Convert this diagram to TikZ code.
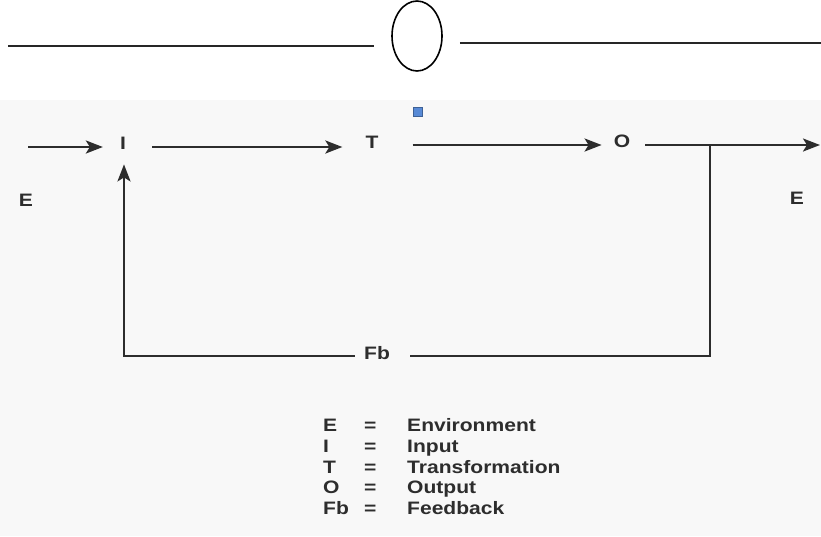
\documentclass[tikz,border=0pt]{standalone}
\usepackage{fontspec}
\setsansfont{Liberation Sans}[FakeStretch=1.17]
\usetikzlibrary{arrows.meta,shapes.geometric}
\definecolor{ink}{RGB}{45,45,45}
\definecolor{paper}{RGB}{248,248,248}
\definecolor{handle}{RGB}{88,138,214}
\begin{document}
\begin{tikzpicture}[x=1pt,y=-1pt,
  lbl/.style={font=\sffamily\bfseries\fontsize{18}{18}\selectfont, inner sep=0pt, text=ink},
  key/.style={lbl, anchor=base west},
  wire/.style={draw=ink, line width=2.5pt},
  flow/.style={wire, -{Stealth[length=17pt,width=13pt,inset=4pt]}},
  rule/.style={draw=black!85, line width=2.6pt}]
\useasboundingbox (0,0) rectangle (821,536);
% scanned page area
\fill[paper] (0,100) rectangle (821,536);

% header rule with the small oval
\node[draw=black, line width=1.6pt, ellipse, minimum width=50pt, minimum height=70pt, inner sep=0pt] (oval) at (417,36) {};
\coordinate (hl) at (8,46);
\coordinate (hr) at (821,43);
\draw[rule] (hl) -- ([xshift=-17pt]oval.west |- hl);
\draw[rule] ([xshift=17pt]oval.east |- hr) -- (hr);

% selection handle
\fill[handle, draw=handle!70!black, line width=0.6pt] (413,107) rectangle (422,116);

% system labels
\node[lbl] (I) at (123,143) {I};
\node[lbl] (T) at (372,142) {T};
\node[lbl] (O) at (622,141) {O};
\node[lbl] (EL) at (26,200) {E};
\node[lbl] (ER) at (797,198) {E};
\node[lbl] (Fb) at (377,353) {Fb};

\coordinate (in) at (28,147);
\coordinate (out) at (820,145);
\coordinate (br) at (710,145);
\coordinate (fbr) at (710,356);
\coordinate (fbl) at (124,356);

% forward chain E -> I -> T -> O -> E
\draw[flow] (in) -- ([xshift=-17pt]I.west |- in);
\draw[flow] ([xshift=26pt]I.east |- in) -- ([xshift=-23pt]T.west |- in);
\draw[flow] ([xshift=34pt]T.east |- out) -- ([xshift=-12pt]O.west |- out);
\draw[flow] ([xshift=15pt]O.east |- out) -- (out);

% feedback loop
\draw[wire] (br) -- (fbr) -- ([xshift=20pt]Fb.east |- fbr);
\draw[flow] ([xshift=-9pt]Fb.west |- fbl) -- (fbl) -- ([yshift=-15pt]fbl |- I.south);

% legend
\foreach \k/\v/\y [count=\n] in {E/Environment/431.5, I/Input/452.5, T/Transformation/473, O/Output/493.5, Fb/Feedback/514.5}{
  \node[key] (k\n) at (323,\y) {\k};
  \node[key] (q\n) at (364,\y) {=};
  \node[key] (v\n) at (407,\y) {\v};
}
\end{tikzpicture}
\end{document}
